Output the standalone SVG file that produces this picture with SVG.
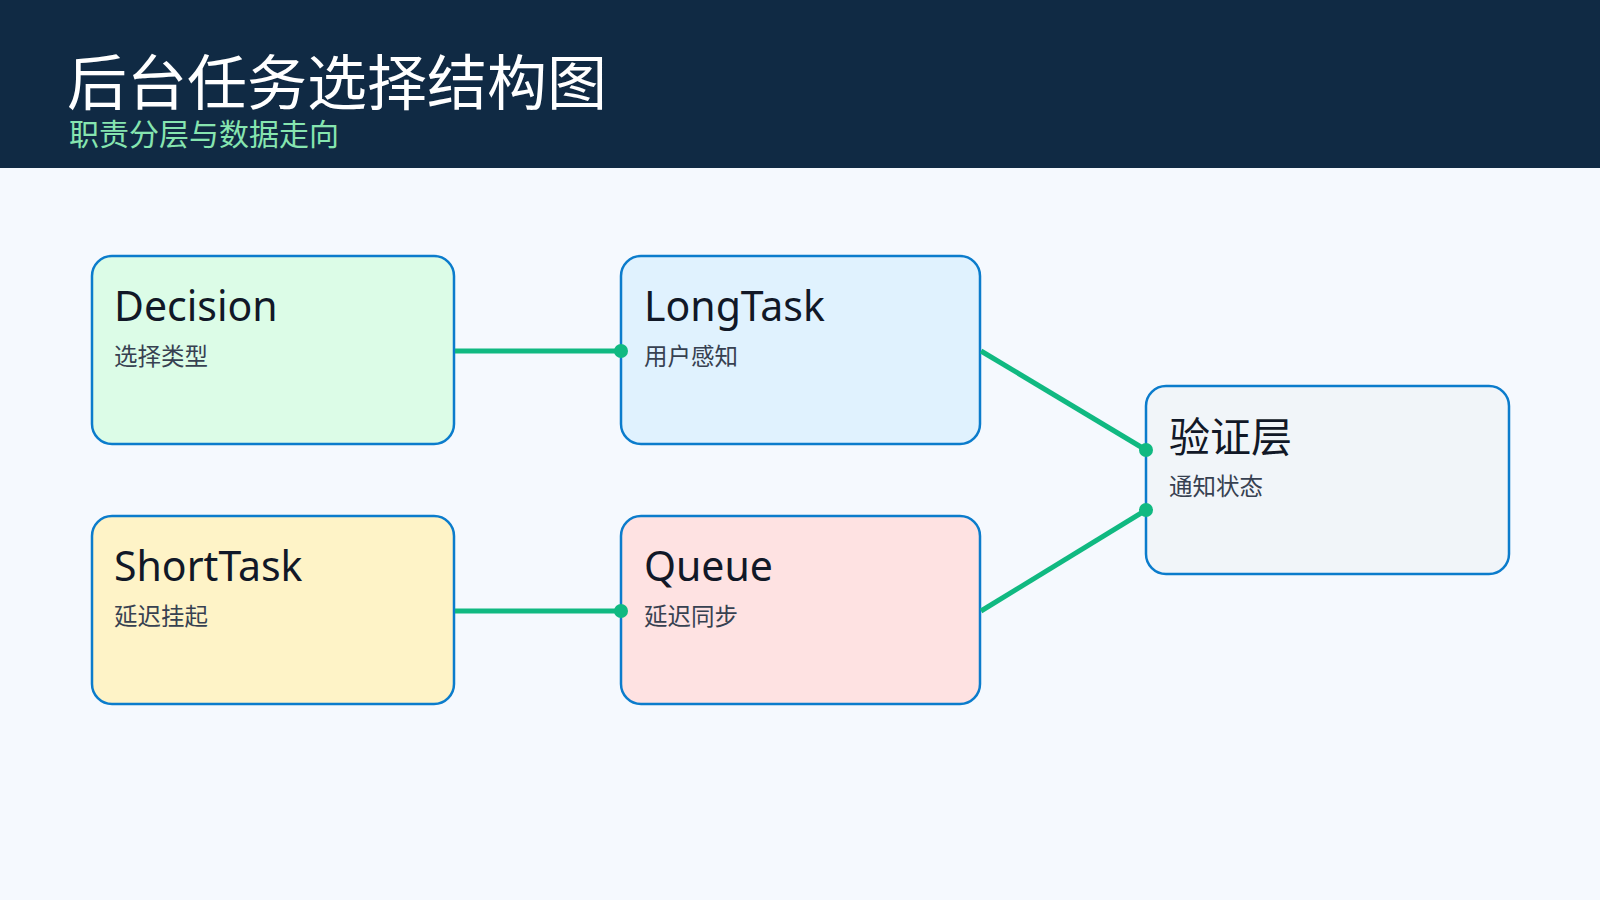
<svg xmlns="http://www.w3.org/2000/svg" width="1600" height="900" viewBox="0 0 1600 900">
<defs><style>
text{font-family:"Noto Sans","Noto Sans CJK SC",sans-serif}
.box{stroke:#0b7ccc;stroke-width:2.5}
.t{font-size:41px;fill:#111827}
.s{font-size:23.5px;fill:#374151}
.c{stroke:#10b981;stroke-width:5;fill:none}
.d{fill:#10b981}
</style></defs>
<rect width="1600" height="900" fill="#f5f9fe"/>
<rect width="1600" height="168" fill="#102a44"/>
<text x="67" y="105" font-size="60" fill="#ffffff">后台任务选择结构图</text>
<text x="69" y="145" font-size="30" fill="#86e5b0">职责分层与数据走向</text>
<g id="decision"><rect class="box" x="92" y="256" width="362" height="188" rx="20" fill="#dcfce7"/><text class="t" x="114" y="321">Decision</text><text class="s" x="114" y="365">选择类型</text></g>
<g id="longtask"><rect class="box" x="621" y="256" width="359" height="188" rx="20" fill="#e0f2fe"/><text class="t" x="644" y="321">LongTask</text><text class="s" x="644" y="365">用户感知</text></g>
<g id="shorttask"><rect class="box" x="92" y="516" width="362" height="188" rx="20" fill="#fef3c7"/><text class="t" x="114" y="581">ShortTask</text><text class="s" x="114" y="625">延迟挂起</text></g>
<g id="queue"><rect class="box" x="621" y="516" width="359" height="188" rx="20" fill="#fee2e2"/><text class="t" x="644" y="581">Queue</text><text class="s" x="644" y="625">延迟同步</text></g>
<g id="verify"><rect class="box" x="1146" y="386" width="363" height="188" rx="20" fill="#f1f5f9"/><text class="t" x="1169" y="452">验证层</text><text class="s" x="1169" y="495">通知状态</text></g>
<g id="connectors">
<line class="c" x1="455" y1="351" x2="621" y2="351"/><circle class="d" cx="621" cy="351" r="7"/>
<line class="c" x1="455" y1="611" x2="621" y2="611"/><circle class="d" cx="621" cy="611" r="7"/>
<line class="c" x1="981" y1="351" x2="1146" y2="450"/><circle class="d" cx="1146" cy="450" r="7"/>
<line class="c" x1="981" y1="611" x2="1146" y2="510"/><circle class="d" cx="1146" cy="510" r="7"/>
</g>
</svg>
